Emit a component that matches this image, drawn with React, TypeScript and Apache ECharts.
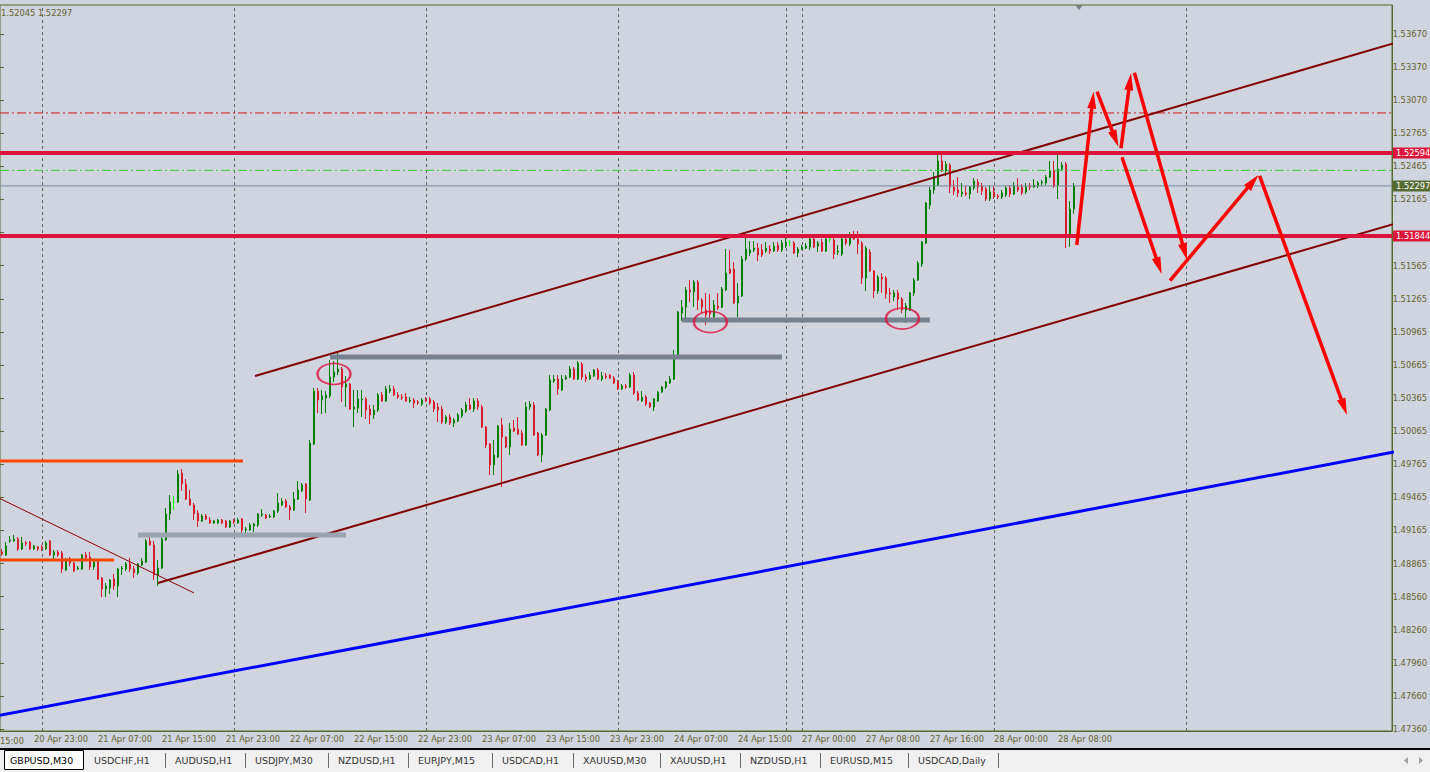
import React, { useEffect, useRef } from "react";
import * as echarts from "echarts";

// ---------- time axis (M30 bars, GBPUSD) ----------
const sessions: [number, number, number][] = [
  // [day of April, first hour, number of 30-min bars]
  [20, 15, 18], [21, 0, 48], [22, 0, 48], [23, 0, 48], [24, 0, 46],
  [27, 0, 48], [28, 0, 48], [29, 0, 48], [30, 0, 48],
];
const CATEGORY_COUNT = 356;

const times: string[] = [];
for (const [day, h0, n] of sessions) {
  for (let k = 0; k < n && times.length < CATEGORY_COUNT; k++) {
    const mins = h0 * 60 + k * 30;
    const hh = String(Math.floor(mins / 60)).padStart(2, "0");
    const mm = String(mins % 60).padStart(2, "0");
    times.push(`${day} Apr ${hh}:${mm}`);
  }
}
const firstVisibleTime = "20 Apr 19:00";
const firstCandleTime = "20 Apr 19:00";
const lastLabelTime = "28 Apr 08:00";

// ---------- price scale labels ----------
const priceTickLabels = [
  "1.47360", "1.47660", "1.47960", "1.48260", "1.48560", "1.48865", "1.49165",
  "1.49465", "1.49765", "1.50065", "1.50365", "1.50665", "1.50965", "1.51265",
  "1.51565", "1.51865", "1.52165", "1.52465", "1.52765", "1.53070", "1.53370", "1.53670",
];
const hiddenTickLabels = ["1.51865"]; // covered by the 1.51844 level tag
const priceMin = 1.47358;
const priceMax = 1.53936;

// ---------- candles [open, close, low, high] ----------
const candles: number[][] = [
  [1.48980, 1.48962, 1.48944, 1.49007], [1.48953, 1.49035, 1.48944, 1.49071], [1.49080, 1.49089, 1.49062, 1.49125],
  [1.49080, 1.49098, 1.49071, 1.49134], [1.49098, 1.49007, 1.48989, 1.49116], [1.49007, 1.49062, 1.48998, 1.49116],
  [1.49062, 1.49053, 1.49035, 1.49080], [1.49071, 1.49007, 1.48998, 1.49080], [1.49007, 1.49035, 1.48998, 1.49044],
  [1.49026, 1.49007, 1.48989, 1.49035], [1.49026, 1.49017, 1.48989, 1.49044], [1.49007, 1.49062, 1.48998, 1.49080],
  [1.49080, 1.48953, 1.48944, 1.49089], [1.48953, 1.48980, 1.48917, 1.48998], [1.48980, 1.48953, 1.48935, 1.48998],
  [1.48971, 1.48826, 1.48790, 1.48989], [1.48817, 1.48917, 1.48808, 1.48926], [1.48917, 1.48880, 1.48853, 1.48935],
  [1.48880, 1.48808, 1.48799, 1.48889], [1.48826, 1.48835, 1.48817, 1.48853], [1.48826, 1.48953, 1.48817, 1.48962],
  [1.48953, 1.48926, 1.48907, 1.48980], [1.48935, 1.48844, 1.48817, 1.48980], [1.48844, 1.48889, 1.48817, 1.48907],
  [1.48889, 1.48735, 1.48726, 1.48898], [1.48744, 1.48645, 1.48572, 1.48753], [1.48645, 1.48672, 1.48572, 1.48699],
  [1.48654, 1.48726, 1.48600, 1.48735], [1.48735, 1.48672, 1.48636, 1.48781], [1.48672, 1.48826, 1.48572, 1.48835],
  [1.48826, 1.48835, 1.48772, 1.48853], [1.48826, 1.48871, 1.48808, 1.48889], [1.48871, 1.48826, 1.48799, 1.48926],
  [1.48826, 1.48790, 1.48744, 1.48853], [1.48790, 1.48871, 1.48772, 1.48880], [1.48862, 1.48898, 1.48853, 1.48926],
  [1.48889, 1.49080, 1.48880, 1.49098], [1.49080, 1.49044, 1.49035, 1.49116], [1.49044, 1.48772, 1.48726, 1.49080],
  [1.48772, 1.48835, 1.48672, 1.48907], [1.48835, 1.49098, 1.48826, 1.49116], [1.49089, 1.49324, 1.49080, 1.49379],
  [1.49324, 1.49433, 1.49270, 1.49496], [1.49433, 1.49433, 1.49360, 1.49487], [1.49433, 1.49687, 1.49424, 1.49723],
  [1.49696, 1.49596, 1.49533, 1.49732], [1.49596, 1.49460, 1.49451, 1.49641], [1.49460, 1.49406, 1.49397, 1.49542],
  [1.49406, 1.49324, 1.49270, 1.49424], [1.49333, 1.49261, 1.49206, 1.49360], [1.49261, 1.49306, 1.49252, 1.49324],
  [1.49306, 1.49279, 1.49270, 1.49324], [1.49270, 1.49243, 1.49234, 1.49297], [1.49243, 1.49261, 1.49234, 1.49270],
  [1.49243, 1.49270, 1.49234, 1.49279], [1.49270, 1.49243, 1.49234, 1.49279], [1.49261, 1.49206, 1.49197, 1.49270],
  [1.49206, 1.49261, 1.49197, 1.49270], [1.49261, 1.49252, 1.49234, 1.49279], [1.49243, 1.49270, 1.49234, 1.49288],
  [1.49279, 1.49179, 1.49134, 1.49288], [1.49179, 1.49188, 1.49134, 1.49206], [1.49179, 1.49225, 1.49170, 1.49243],
  [1.49215, 1.49234, 1.49161, 1.49243], [1.49225, 1.49324, 1.49206, 1.49333], [1.49315, 1.49324, 1.49297, 1.49369],
  [1.49315, 1.49288, 1.49279, 1.49324], [1.49297, 1.49306, 1.49288, 1.49324], [1.49297, 1.49351, 1.49288, 1.49360],
  [1.49351, 1.49424, 1.49333, 1.49514], [1.49406, 1.49442, 1.49397, 1.49469], [1.49442, 1.49388, 1.49379, 1.49460],
  [1.49388, 1.49360, 1.49270, 1.49406], [1.49360, 1.49460, 1.49351, 1.49523], [1.49460, 1.49542, 1.49451, 1.49623],
  [1.49533, 1.49587, 1.49523, 1.49605], [1.49596, 1.49460, 1.49333, 1.49605], [1.49451, 1.49967, 1.49442, 1.49995],
  [1.49958, 1.50438, 1.49949, 1.50466], [1.50438, 1.50357, 1.50239, 1.50466], [1.50357, 1.50393, 1.50230, 1.50448],
  [1.50375, 1.50402, 1.50239, 1.50438], [1.50393, 1.50565, 1.50375, 1.50719], [1.50565, 1.50611, 1.50520, 1.50710],
  [1.50611, 1.50638, 1.50583, 1.50783], [1.50638, 1.50475, 1.50339, 1.50656], [1.50475, 1.50502, 1.50294, 1.50574],
  [1.50502, 1.50275, 1.50266, 1.50511], [1.50275, 1.50294, 1.50112, 1.50448], [1.50284, 1.50366, 1.50239, 1.50448],
  [1.50357, 1.50366, 1.50203, 1.50448], [1.50366, 1.50266, 1.50185, 1.50384], [1.50275, 1.50221, 1.50139, 1.50312],
  [1.50221, 1.50266, 1.50185, 1.50312], [1.50266, 1.50402, 1.50248, 1.50420], [1.50402, 1.50348, 1.50339, 1.50429],
  [1.50348, 1.50457, 1.50339, 1.50484], [1.50438, 1.50457, 1.50420, 1.50493], [1.50457, 1.50402, 1.50393, 1.50484],
  [1.50402, 1.50384, 1.50366, 1.50429], [1.50384, 1.50375, 1.50357, 1.50411], [1.50384, 1.50348, 1.50339, 1.50420],
  [1.50348, 1.50357, 1.50330, 1.50384], [1.50357, 1.50330, 1.50284, 1.50375], [1.50339, 1.50330, 1.50312, 1.50357],
  [1.50321, 1.50357, 1.50303, 1.50375], [1.50357, 1.50348, 1.50339, 1.50384], [1.50366, 1.50330, 1.50312, 1.50384],
  [1.50339, 1.50275, 1.50248, 1.50357], [1.50294, 1.50266, 1.50157, 1.50330], [1.50275, 1.50157, 1.50139, 1.50303],
  [1.50157, 1.50203, 1.50139, 1.50221], [1.50203, 1.50148, 1.50130, 1.50230], [1.50148, 1.50176, 1.50112, 1.50194],
  [1.50167, 1.50221, 1.50157, 1.50239], [1.50212, 1.50266, 1.50194, 1.50284], [1.50257, 1.50312, 1.50239, 1.50339],
  [1.50312, 1.50275, 1.50266, 1.50375], [1.50275, 1.50348, 1.50248, 1.50375], [1.50348, 1.50294, 1.50266, 1.50375],
  [1.50294, 1.50112, 1.50103, 1.50312], [1.50112, 1.49949, 1.49922, 1.50121], [1.49958, 1.49768, 1.49677, 1.49967],
  [1.49768, 1.49859, 1.49677, 1.49995], [1.49840, 1.50121, 1.49831, 1.50130], [1.50130, 1.50021, 1.49569, 1.50194],
  [1.50021, 1.49931, 1.49922, 1.50030], [1.49931, 1.50094, 1.49859, 1.50148], [1.50103, 1.50076, 1.50067, 1.50176],
  [1.50094, 1.50049, 1.50040, 1.50203], [1.50058, 1.49949, 1.49940, 1.50085], [1.49949, 1.50294, 1.49940, 1.50339],
  [1.50294, 1.50321, 1.50266, 1.50348], [1.50312, 1.50040, 1.50031, 1.50339], [1.50058, 1.49859, 1.49850, 1.50067],
  [1.49859, 1.50040, 1.49795, 1.50058], [1.50040, 1.50275, 1.50031, 1.50284], [1.50266, 1.50538, 1.50257, 1.50583],
  [1.50529, 1.50547, 1.50511, 1.50583], [1.50547, 1.50457, 1.50402, 1.50583], [1.50448, 1.50547, 1.50438, 1.50583],
  [1.50547, 1.50565, 1.50538, 1.50583], [1.50565, 1.50638, 1.50556, 1.50665], [1.50638, 1.50547, 1.50538, 1.50656],
  [1.50547, 1.50692, 1.50538, 1.50710], [1.50683, 1.50565, 1.50538, 1.50701], [1.50565, 1.50547, 1.50520, 1.50592],
  [1.50547, 1.50583, 1.50538, 1.50611], [1.50574, 1.50629, 1.50565, 1.50638], [1.50629, 1.50547, 1.50538, 1.50647],
  [1.50547, 1.50574, 1.50529, 1.50611], [1.50574, 1.50565, 1.50547, 1.50601], [1.50583, 1.50556, 1.50547, 1.50592],
  [1.50556, 1.50511, 1.50502, 1.50574], [1.50520, 1.50457, 1.50448, 1.50538], [1.50457, 1.50484, 1.50448, 1.50502],
  [1.50484, 1.50475, 1.50457, 1.50502], [1.50475, 1.50583, 1.50466, 1.50601], [1.50583, 1.50420, 1.50402, 1.50611],
  [1.50420, 1.50357, 1.50348, 1.50438], [1.50348, 1.50384, 1.50339, 1.50438], [1.50384, 1.50321, 1.50303, 1.50402],
  [1.50330, 1.50294, 1.50284, 1.50339], [1.50294, 1.50366, 1.50257, 1.50375], [1.50348, 1.50429, 1.50339, 1.50438],
  [1.50429, 1.50475, 1.50420, 1.50484], [1.50475, 1.50520, 1.50457, 1.50529], [1.50511, 1.50547, 1.50502, 1.50574],
  [1.50547, 1.50746, 1.50538, 1.50810], [1.50746, 1.51154, 1.50737, 1.51163], [1.51145, 1.51199, 1.51073, 1.51263],
  [1.51199, 1.51354, 1.51082, 1.51381], [1.51354, 1.51336, 1.51245, 1.51444], [1.51336, 1.51426, 1.51199, 1.51444],
  [1.51426, 1.51263, 1.51172, 1.51444], [1.51263, 1.51199, 1.51145, 1.51281], [1.51172, 1.51127, 1.51037, 1.51327],
  [1.51163, 1.51136, 1.51100, 1.51318], [1.51109, 1.51218, 1.51064, 1.51263], [1.51209, 1.51190, 1.51172, 1.51327],
  [1.51199, 1.51363, 1.51190, 1.51381], [1.51354, 1.51507, 1.51345, 1.51725], [1.51544, 1.51507, 1.51498, 1.51716],
  [1.51544, 1.51236, 1.51227, 1.51607], [1.51236, 1.51299, 1.51109, 1.51417], [1.51299, 1.51634, 1.51290, 1.51661],
  [1.51634, 1.51725, 1.51616, 1.51843], [1.51689, 1.51716, 1.51661, 1.51797], [1.51716, 1.51734, 1.51698, 1.51797],
  [1.51734, 1.51671, 1.51616, 1.51779], [1.51716, 1.51671, 1.51652, 1.51770], [1.51707, 1.51734, 1.51689, 1.51788],
  [1.51725, 1.51707, 1.51680, 1.51761], [1.51707, 1.51752, 1.51698, 1.51788], [1.51761, 1.51716, 1.51698, 1.51788],
  [1.51716, 1.51779, 1.51698, 1.51807], [1.51752, 1.51788, 1.51734, 1.51825], [1.51779, 1.51779, 1.51752, 1.51807],
  [1.51779, 1.51689, 1.51680, 1.51797], [1.51689, 1.51725, 1.51652, 1.51743], [1.51725, 1.51743, 1.51716, 1.51761],
  [1.51734, 1.51752, 1.51725, 1.51779], [1.51743, 1.51816, 1.51716, 1.51834], [1.51816, 1.51743, 1.51734, 1.51843],
  [1.51752, 1.51779, 1.51698, 1.51797], [1.51788, 1.51707, 1.51698, 1.51816], [1.51707, 1.51816, 1.51698, 1.51834],
  [1.51816, 1.51816, 1.51788, 1.51843], [1.51807, 1.51680, 1.51634, 1.51825], [1.51698, 1.51707, 1.51671, 1.51761],
  [1.51680, 1.51816, 1.51661, 1.51843], [1.51816, 1.51779, 1.51761, 1.51843], [1.51770, 1.51834, 1.51752, 1.51879],
  [1.51834, 1.51816, 1.51807, 1.51888], [1.51816, 1.51770, 1.51680, 1.51888], [1.51779, 1.51462, 1.51408, 1.51797],
  [1.51462, 1.51734, 1.51345, 1.51752], [1.51698, 1.51526, 1.51516, 1.51725], [1.51526, 1.51345, 1.51281, 1.51535],
  [1.51345, 1.51471, 1.51318, 1.51489], [1.51471, 1.51453, 1.51327, 1.51507], [1.51462, 1.51318, 1.51272, 1.51480],
  [1.51327, 1.51318, 1.51236, 1.51372], [1.51290, 1.51327, 1.51254, 1.51354], [1.51327, 1.51272, 1.51172, 1.51354],
  [1.51272, 1.51172, 1.51145, 1.51290], [1.51172, 1.51209, 1.51055, 1.51236], [1.51172, 1.51327, 1.51163, 1.51336],
  [1.51327, 1.51444, 1.51299, 1.51462], [1.51444, 1.51598, 1.51435, 1.51616], [1.51589, 1.51788, 1.51562, 1.51797],
  [1.51779, 1.52142, 1.51770, 1.52151], [1.52124, 1.52260, 1.52087, 1.52287], [1.52260, 1.52377, 1.52223, 1.52423],
  [1.52305, 1.52522, 1.52296, 1.52586], [1.52522, 1.52432, 1.52423, 1.52577], [1.52432, 1.52495, 1.52387, 1.52522],
  [1.52486, 1.52287, 1.52233, 1.52504], [1.52287, 1.52251, 1.52214, 1.52350], [1.52260, 1.52233, 1.52196, 1.52377],
  [1.52223, 1.52242, 1.52196, 1.52323], [1.52233, 1.52223, 1.52205, 1.52296], [1.52223, 1.52287, 1.52178, 1.52296],
  [1.52278, 1.52341, 1.52260, 1.52368], [1.52332, 1.52287, 1.52233, 1.52359], [1.52296, 1.52251, 1.52214, 1.52323],
  [1.52269, 1.52178, 1.52160, 1.52287], [1.52178, 1.52242, 1.52160, 1.52305], [1.52242, 1.52205, 1.52178, 1.52296],
  [1.52205, 1.52196, 1.52178, 1.52223], [1.52196, 1.52233, 1.52178, 1.52260], [1.52214, 1.52278, 1.52196, 1.52296],
  [1.52278, 1.52223, 1.52196, 1.52305], [1.52223, 1.52296, 1.52214, 1.52332], [1.52287, 1.52260, 1.52242, 1.52368],
  [1.52287, 1.52233, 1.52214, 1.52314], [1.52242, 1.52287, 1.52223, 1.52323], [1.52296, 1.52287, 1.52260, 1.52323],
  [1.52287, 1.52305, 1.52278, 1.52359], [1.52296, 1.52323, 1.52278, 1.52341], [1.52323, 1.52332, 1.52296, 1.52350],
  [1.52323, 1.52377, 1.52305, 1.52395], [1.52377, 1.52432, 1.52368, 1.52522], [1.52432, 1.52296, 1.52278, 1.52522],
  [1.52305, 1.52450, 1.52178, 1.52613], [1.52450, 1.52486, 1.52432, 1.52513], [1.52495, 1.51834, 1.51734, 1.52513],
  [1.51834, 1.52087, 1.51743, 1.52160], [1.52087, 1.52297, 1.52045, 1.52323],
];

// ---------- horizontal levels ----------
const resistanceLevel = 1.52594;
const supportLevel = 1.51844;
const bidPrice = 1.52297;
const greenDashLevel = 1.52438;
const redDashLevel = 1.52958;

// ---------- drawings: [bar position, price] ----------
const upperChannel = [[71.25, 1.50575], [356, 1.5359]];
const lowerChannel = [[47, 1.48699], [356, 1.51952]];
const blueTrend = [[0, 1.4745], [356, 1.49886]];
const fallingTrend = [[0, 1.49596], [56, 1.48609]];
const orangeUpper = [[0, 1.49804], [68.25, 1.49804]];
const orangeLower = [[0, 1.48907], [36, 1.48907]];
const shelfA = [[42, 1.49134], [94, 1.49134]];
const shelfB = [[90, 1.50747], [203, 1.50747]];
const shelfC = [[178, 1.51082], [240, 1.51082]];
const circledPoints = [[91, 1.50593], [185.1, 1.51064], [233.1, 1.51095]];
// [from bar, from price, to bar, to price]
const arrows = [
  [276.7, 1.51762, 280.9, 1.53151],
  [281.75, 1.53151, 287.1, 1.52652],
  [287.75, 1.52638, 290.25, 1.53317],
  [291.1, 1.53322, 304.25, 1.51625],
  [288, 1.52556, 297.9, 1.51499],
  [300, 1.51438, 322.1, 1.52396],
  [322.4, 1.52387, 344.25, 1.50221],
];
const dayGridBars = [18, 66, 114, 162, 204, 208, 256, 304];

const tabs = [
  "GBPUSD,M30", "USDCHF,H1", "AUDUSD,H1", "USDJPY,M30", "NZDUSD,H1", "EURJPY,M15",
  "USDCAD,H1", "XAUUSD,M30", "XAUUSD,H1", "NZDUSD,H1", "EURUSD,M15", "USDCAD,Daily",
];
const tabTextX = [10, 94, 175, 255, 338, 418, 502, 583, 670, 750, 830, 918];
const tabSepX = [165, 245, 328, 408, 492, 573, 660, 740, 820, 908, 998];

const OLIVE = "#556b2f";
const AXIS_TEXT = "#67622f";
const FONT = "DejaVu Sans";

export default function App() {
  const ref = useRef<HTMLDivElement>(null);
  useEffect(() => {
    document.body.style.margin = "0";
    const chart = echarts.init(ref.current!, null, { renderer: "svg" });

    const minIdx = times.indexOf(firstVisibleTime);
    const maxIdx = times.length - 1;
    const startIdx = times.indexOf(firstCandleTime);
    const lastLabelIdx = times.indexOf(lastLabelTime);
    const candleData: any[] = [];
    for (let i = 0; i < startIdx; i++) candleData.push("-");
    candles.forEach((c) => candleData.push(c));

    const showTick = (index: number) => index % 16 === 0 && index <= lastLabelIdx;
    const xLo = minIdx - 0.5;
    const xHi = maxIdx + 0.5;

    const line = (data: number[][], color: string, width: number, z = 4, type: any = "solid", endLabel?: any) => ({
      type: "line",
      xAxisIndex: 2,
      yAxisIndex: 0,
      data,
      symbol: "none",
      showSymbol: false,
      silent: true,
      z,
      lineStyle: { color, width, cap: "butt", type },
      endLabel: endLabel || { show: false },
    });

    const levelLabel = (bg: string, text: string) => ({
      show: true,
      formatter: text,
      distance: 1,
      backgroundColor: bg,
      color: "#ffffff",
      padding: [2, 1, 1, 3],
      fontSize: 8.3,
      fontFamily: FONT,
      align: "left",
    });
    const level = (p: number) => [[xLo, p], [xHi, p]];

    const graphics: any[] = [
      { type: "rect", shape: { x: 0, y: 749, width: 1430, height: 23 }, style: { fill: "#f0f0f0" }, z: 100 },
      { type: "rect", shape: { x: 0, y: 748, width: 1430, height: 2 }, style: { fill: "#000000" }, z: 101 },
      { type: "rect", shape: { x: 4.5, y: 750.5, width: 79, height: 19 }, style: { fill: "#ffffff", stroke: "#000000", lineWidth: 1 }, z: 101 },
      {
        type: "text", x: 1, y: 13, z: 50,
        style: { text: "1.52045 1.52297", fill: AXIS_TEXT, fontSize: 8.3, fontFamily: FONT, verticalAlign: "middle" },
      },
      {
        type: "text", x: 0, y: 741, z: 50,
        style: { text: "15:00", fill: AXIS_TEXT, fontSize: 8.3, fontFamily: FONT, verticalAlign: "middle" },
      },
      { type: "polygon", shape: { points: [[1075, 5], [1083, 5], [1079, 10]] }, style: { fill: "#7f7f7f" }, z: 50 },
      { type: "polygon", shape: { points: [[1408, 757], [1408, 764], [1404, 760.5]] }, style: { fill: "#a0a0a0" }, z: 102 },
      { type: "polygon", shape: { points: [[1419, 757], [1419, 764], [1423, 760.5]] }, style: { fill: "#a0a0a0" }, z: 102 },
    ];
    tabs.forEach((t, k) => {
      graphics.push({
        type: "text", x: tabTextX[k], y: 760.5, z: 102,
        style: { text: t, fill: k === 0 ? "#000000" : "#333333", fontSize: 9.5, fontFamily: FONT, verticalAlign: "middle" },
      });
    });
    tabSepX.forEach((x) => {
      graphics.push({ type: "line", shape: { x1: x + 0.5, y1: 753, x2: x + 0.5, y2: 768 }, style: { stroke: "#6a6a6a", lineWidth: 1 }, z: 102 });
    });

    const option: any = {
      animation: false,
      backgroundColor: "#cfd4df",
      textStyle: { fontFamily: FONT },
      grid: [
        { left: 0, right: 38, top: 5, bottom: 41, show: true, borderColor: OLIVE, borderWidth: 1, backgroundColor: "transparent" },
        { left: 0, right: 38, top: 34, bottom: 43 },
      ],
      xAxis: [
        {
          type: "category",
          gridIndex: 0,
          data: times,
          min: minIdx,
          max: maxIdx,
          boundaryGap: true,
          axisLine: { lineStyle: { color: OLIVE } },
          axisTick: { alignWithLabel: true, interval: (i: number) => showTick(i), length: 4, lineStyle: { color: OLIVE } },
          axisLabel: {
            interval: (i: number) => showTick(i),
            align: "left",
            margin: 4,
            color: AXIS_TEXT,
            fontSize: 8.3,
            fontFamily: FONT,
          },
          splitLine: { show: false },
        },
        { type: "value", gridIndex: 1, show: false, min: 0, max: 1 },
        { type: "value", gridIndex: 0, show: false, min: xLo, max: xHi },
      ],
      yAxis: [
        {
          type: "value",
          gridIndex: 0,
          position: "right",
          min: priceMin,
          max: priceMax,
          axisLine: { show: true, lineStyle: { color: OLIVE } },
          axisTick: { show: false },
          axisLabel: { show: false },
          splitLine: { show: false },
        },
        {
          type: "value",
          gridIndex: 1,
          position: "right",
          min: 0,
          max: priceTickLabels.length - 1,
          interval: 1,
          axisLine: { show: false },
          axisTick: { show: true, length: 4, lineStyle: { color: OLIVE } },
          axisLabel: {
            formatter: (v: number) => {
              const t = priceTickLabels[Math.round(v)] ?? "";
              return hiddenTickLabels.includes(t) ? "" : t;
            },
            margin: 5,
            color: AXIS_TEXT,
            fontSize: 8.3,
            fontFamily: FONT,
          },
          splitLine: { show: false },
        },
      ],
      graphic: graphics,
      series: [
        // day separators (grid)
        {
          type: "line",
          xAxisIndex: 2,
          yAxisIndex: 0,
          data: [],
          silent: true,
          markLine: {
            silent: true,
            symbol: ["none", "none"],
            z: 1,
            label: { show: false },
            lineStyle: { color: "#5d6450", width: 1, type: [3, 3] },
            data: dayGridBars.map((b) => ({ xAxis: b })),
          },
        },
        {
          type: "candlestick",
          xAxisIndex: 0,
          yAxisIndex: 0,
          data: candleData,
          barWidth: 2,
          z: 2,
          itemStyle: {
            color: "#008000",
            color0: "#ffffff",
            borderColor: "#008000",
            borderColor0: "#d81e2c",
            borderColorDoji: "#00ff00",
            borderWidth: 1,
          },
        },
        line(level(redDashLevel), "#d01818", 1, 3, [9, 3, 2, 3]),
        line(level(greenDashLevel), "#32cd32", 1, 3, [9, 3, 2, 3]),
        line(level(bidPrice), "#778899", 1, 3, "solid", levelLabel("#556b2f", "1.52297")),
        line(blueTrend, "#0000ff", 3),
        line(fallingTrend, "#8b0000", 1),
        line(upperChannel, "#800000", 2),
        line(lowerChannel, "#800000", 2),
        line(orangeUpper, "#ff4500", 3),
        line(orangeLower, "#ff4500", 3),
        line(shelfA, "#9aa4b0", 5),
        line(shelfB, "#76828f", 5),
        line(shelfC, "#76828f", 5),
        line(level(resistanceLevel), "#dc143c", 4, 5, "solid", levelLabel("#dc143c", "1.52594")),
        line(level(supportLevel), "#dc143c", 4, 5, "solid", levelLabel("#dc143c", "1.51844")),
        {
          type: "scatter",
          xAxisIndex: 2,
          yAxisIndex: 0,
          data: circledPoints,
          symbol: "circle",
          symbolSize: [33, 21],
          silent: true,
          z: 4,
          itemStyle: { color: "rgba(0,0,0,0)", borderColor: "#e0103c", borderWidth: 2 },
        },
        {
          type: "custom",
          xAxisIndex: 2,
          yAxisIndex: 0,
          data: arrows,
          encode: { x: [0, 2], y: [1, 3] },
          silent: true,
          z: 6,
          renderItem: (_params: any, api: any) => {
            const a = api.coord([api.value(0), api.value(1)]);
            const b = api.coord([api.value(2), api.value(3)]);
            const dx = b[0] - a[0];
            const dy = b[1] - a[1];
            const len = Math.hypot(dx, dy) || 1;
            const ux = dx / len;
            const uy = dy / len;
            const headLen = 17;
            const half = 4.5;
            const bx = b[0] - ux * headLen;
            const by = b[1] - uy * headLen;
            return {
              type: "group",
              children: [
                {
                  type: "line",
                  shape: { x1: a[0], y1: a[1], x2: bx + ux * 3, y2: by + uy * 3 },
                  style: { stroke: "#ff0000", lineWidth: 3.5, lineCap: "butt" },
                },
                {
                  type: "polygon",
                  shape: { points: [[b[0], b[1]], [bx - uy * half, by + ux * half], [bx + uy * half, by - ux * half]] },
                  style: { fill: "#ff0000" },
                },
              ],
            };
          },
        },
      ],
    };

    chart.setOption(option);
    return () => chart.dispose();
  }, []);

  return <div ref={ref} style={{ position: "absolute", left: 0, top: 0, width: 1430, height: 772 }} />;
}
